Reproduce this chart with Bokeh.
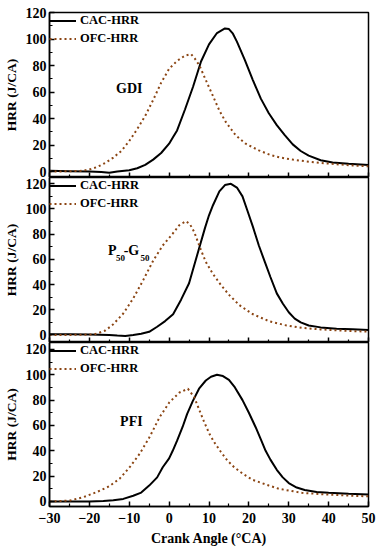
from bokeh.plotting import figure
from bokeh.layouts import column
from bokeh.models import Range1d, FixedTicker, Label
from bokeh.embed import file_html
from bokeh.resources import INLINE

# ---------------- data ----------------
x_ticks = [-30, -20, -10, 0, 10, 20, 30, 40, 50]
y_ticks = [0, 20, 40, 60, 80, 100, 120]

# GDI
gdi_cac_x = [-30, -25, -20, -17, -15, -13, -10, -8, -6, -4, -2, 0, 1, 2, 4, 6, 8, 10, 12, 14, 15, 16, 17, 19, 21, 23, 25, 27, 29, 31, 33, 35, 38, 41, 45, 50]
gdi_cac_y = [0.5, 0.3, 0, -0.3, -1, 0, 1, 2.5, 5, 9, 14, 21, 26, 31, 47, 64, 83, 96, 104.5, 108, 107.5, 104, 98, 84, 69, 55, 44, 35, 27.5, 20.5, 15.5, 12, 8.5, 6.8, 5.8, 5]
gdi_ofc_x = [-30, -25, -22, -20, -18, -16, -14, -12, -10, -8, -6, -4, -2, 0, 2, 4, 5.5, 6.5, 7.6, 9.2, 10.9, 12.6, 14.2, 16.7, 19.2, 22.5, 25.4, 28, 31, 34, 38, 42, 46, 50]
gdi_ofc_y = [0, 0.2, 0.5, 1.5, 3.5, 6.5, 10.5, 15.5, 23, 32, 42, 54, 67, 77.5, 83.5, 87.5, 88.6, 85, 80, 69, 57.6, 46, 37.4, 27.3, 21, 16, 12.5, 10.5, 9, 7.8, 6.5, 5.5, 4.6, 4]

# P50-G50
pg_cac_x = [-30, -25, -20, -15, -13, -11, -9, -7, -5, -3, -1, 1, 3, 5, 7, 9, 10, 11, 12.6, 14, 15.5, 17, 18.4, 19.6, 21, 22.5, 24, 25.4, 27, 28.5, 30, 31.5, 33, 35, 38, 42, 46, 50]
pg_cac_y = [0.5, 0.5, 0.3, 0, -0.5, -0.8, 0, 1, 2.5, 6.5, 11, 16.5, 28, 41, 63, 85, 95, 103, 114, 119, 120, 117, 110, 99, 86, 71, 58, 46, 33, 25, 18, 13, 10, 7.5, 6, 5, 4.5, 4]
pg_ofc_x = [-30, -25, -22, -19, -18, -16, -14, -11.5, -9, -6.5, -4, -1.6, 0.9, 2.5, 4.2, 5.2, 6.3, 8, 9.2, 10.9, 13, 15.1, 17.6, 20.9, 25, 29, 33.3, 38, 44, 50]
pg_ofc_y = [0, 0, 0.2, 0.4, 1.2, 3.5, 8.5, 17, 29, 43.5, 59, 71, 80.4, 87, 90.3, 88, 81.7, 67.2, 58, 48.8, 39.6, 31.6, 23.7, 16.6, 11, 7.8, 5.6, 4.4, 3.3, 2.6]

# PFI
pfi_cac_x = [-30, -25, -20, -16.5, -14, -11.5, -9, -7, -5, -3, -1.6, 0, 0.9, 2, 3.4, 4.5, 5.9, 7.5, 9.2, 10.5, 12, 13.5, 15, 16.5, 18.4, 20, 21.7, 23, 24.2, 25.4, 27, 28.5, 30, 32, 34, 37, 40, 45, 50]
pfi_cac_y = [0, 0, 0, 0.3, 1, 2, 4.5, 7, 12.5, 19, 27, 34, 40, 48, 59, 69, 79, 89, 95.5, 98.5, 100, 99, 96, 90, 80, 70, 58.6, 49, 40, 33, 25, 19, 14.5, 11, 9, 7.5, 6.8, 6, 5.5]
pfi_ofc_x = [-30, -27, -24.8, -21.5, -18.2, -15, -12.4, -9.9, -7.4, -4.9, -2.4, 0.1, 2.6, 4.7, 6.3, 7.6, 8.8, 10.1, 11.3, 13, 14.6, 16.3, 18.4, 20.9, 25, 27.5, 33.3, 39.2, 45, 50]
pfi_ofc_y = [0, 0.3, 0.8, 3.4, 7.3, 12, 18, 27, 37.6, 50.8, 66.5, 78.4, 86, 89, 82.3, 72, 62.6, 53.4, 46.8, 39, 32.4, 27, 22, 17.1, 12.6, 10, 6.8, 5.5, 4.6, 4]

FONT = "'Liberation Serif', serif"
OFC_COLOR = "#8B4513"
FRAME_H = 165

x_range = Range1d(-30, 50)


def make_panel(cac_x, cac_y, ofc_x, ofc_y, y0, y1, top, bottom, show_x):
    p = figure(width=378, height=FRAME_H + top + bottom, x_range=x_range,
               y_range=Range1d(y0, y1),
               output_backend="svg", toolbar_location=None,
               min_border_left=46, min_border_right=10,
               min_border_top=top, min_border_bottom=bottom)
    p.grid.visible = False
    p.outline_line_color = "black"
    p.outline_line_width = 1.5
    p.background_fill_color = "white"
    p.border_fill_color = "white"

    p.line(cac_x, cac_y, line_color="black", line_width=2, legend_label="CAC-HRR")
    p.line(ofc_x, ofc_y, line_color=OFC_COLOR, line_width=2, line_dash="2 3",
           legend_label="OFC-HRR")

    for ax in (p.xaxis[0], p.yaxis[0]):
        ax.axis_line_width = 1.5
        ax.major_tick_line_width = 1.5
        ax.minor_tick_line_width = 1.2
        ax.major_tick_in = 5
        ax.major_tick_out = 0
        ax.minor_tick_in = 3
        ax.minor_tick_out = 0
        ax.major_label_text_font = FONT
        ax.major_label_text_font_style = "bold"
        ax.major_label_text_font_size = "14px"
        ax.major_label_text_color = "black"
        ax.axis_label_text_font = FONT
        ax.axis_label_text_font_style = "bold"
        ax.axis_label_text_color = "black"

    p.xaxis.ticker = FixedTicker(ticks=x_ticks, minor_ticks=[t + 5 for t in x_ticks[:-1]])
    p.yaxis.ticker = FixedTicker(ticks=y_ticks, minor_ticks=[t + 10 for t in y_ticks[:-1]])

    p.yaxis.axis_label = "HRR (J/CA)"
    p.yaxis.axis_label_text_font_size = "13.5px"
    p.yaxis.axis_label_standoff = 4
    p.yaxis.major_label_standoff = 3

    if show_x:
        p.xaxis.axis_label = "Crank Angle (°CA)"
        p.xaxis.axis_label_text_font_size = "14px"
        p.xaxis.major_label_standoff = 6
        p.xaxis.axis_label_standoff = 5
    else:
        p.xaxis.major_label_text_font_size = "0px"
        p.xaxis.major_label_standoff = 0
        p.xaxis.axis_label_standoff = 0

    lg = p.legend[0]
    lg.location = "top_left"
    lg.margin = 0
    lg.padding = 5
    lg.spacing = 1
    lg.border_line_color = None
    lg.background_fill_alpha = 0
    lg.glyph_width = 27
    lg.glyph_height = 17
    lg.label_height = 17
    lg.label_standoff = 4
    lg.label_text_font = FONT
    lg.label_text_font_style = "bold"
    lg.label_text_font_size = "12.5px"
    lg.label_text_color = "black"
    return p


def add_text(p, x, y, text, size):
    p.add_layout(Label(x=x, y=y, text=text, text_font=FONT, text_font_style="bold",
                       text_font_size=size, text_color="black",
                       text_align="left", text_baseline="alphabetic"))


p1 = make_panel(gdi_cac_x, gdi_cac_y, gdi_ofc_x, gdi_ofc_y, -4.5, 120, 12, 0, False)
p2 = make_panel(pg_cac_x, pg_cac_y, pg_ofc_x, pg_ofc_y, -6, 125, 0, 0, False)
p3 = make_panel(pfi_cac_x, pfi_cac_y, pfi_ofc_x, pfi_ofc_y, -4, 125.5, 0, 41, True)

add_text(p1, -13.3, 63, "GDI", "14px")
add_text(p2, -15.3, 66.7, "P", "14px")
add_text(p2, -13.3, 61.4, "50", "9px")
add_text(p2, -11.4, 66.7, "-G", "14px")
add_text(p2, -7.2, 61.4, "50", "9px")
add_text(p3, -12.3, 63.5, "PFI", "14px")

layout = column(p1, p2, p3, spacing=0)
open("out.html", "w").write(file_html(layout, INLINE))
